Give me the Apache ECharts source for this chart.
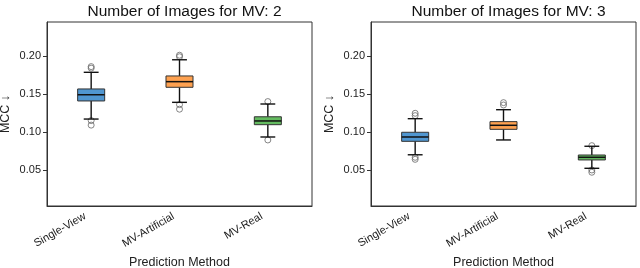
<!DOCTYPE html>
<html><head><meta charset="utf-8">
<script src="https://cdn.jsdelivr.net/npm/echarts@6/dist/echarts.min.js"></script>
<style>html,body{margin:0;padding:0;background:#fff}#c{width:640px;height:268px}</style>
</head><body><div id="c"></div>
<script>
const categories = ['Single-View', 'MV-Artificial', 'MV-Real'];
const titles = ['Number of Images for MV: 2', 'Number of Images for MV: 3'];
const yTicks = [0.05, 0.10, 0.15, 0.20];
const boxColors = ['#5096d0', '#fea150', '#64bb60'];
// [lowerWhisker, Q1, median, Q3, upperWhisker]
const statsMV2 = [
  [0.1170, 0.1408, 0.1490, 0.1566, 0.1785],
  [0.1390, 0.1588, 0.1662, 0.1737, 0.1950],
  [0.0934, 0.1096, 0.1145, 0.1200, 0.1368]
];
const statsMV3 = [
  [0.0700, 0.0877, 0.0934, 0.0996, 0.1175],
  [0.0895, 0.1035, 0.1088, 0.1136, 0.1293],
  [0.0522, 0.0632, 0.0667, 0.0697, 0.0812]
];
// [categoryIndex, value]
const outliersMV2 = [
  [0, 0.1840], [0, 0.1860], [0, 0.1150], [0, 0.1090],
  [1, 0.1990], [1, 0.2010], [1, 0.1360], [1, 0.1300],
  [2, 0.1400], [2, 0.0895]
];
const outliersMV3 = [
  [0, 0.1246], [0, 0.1215], [0, 0.0667], [0, 0.0640],
  [1, 0.1386], [1, 0.1355],
  [2, 0.0820], [2, 0.0500], [2, 0.0470]
];
const yMin = 0.0026, yMax = 0.2447;

const font = 'Liberation Sans, Arial, Helvetica, sans-serif';
const chart = echarts.init(document.getElementById('c'), null, {renderer: 'canvas'});

function renderBox(params, api) {
  const ci = api.value(0);
  const pLow = api.coord([ci, api.value(1)]);
  const pQ1 = api.coord([ci, api.value(2)]);
  const pMed = api.coord([ci, api.value(3)]);
  const pQ3 = api.coord([ci, api.value(4)]);
  const pHigh = api.coord([ci, api.value(5)]);
  const band = api.size([1, 0])[0];
  const bw = band * 0.306;
  const cw = bw * 0.55;
  const x = pMed[0];
  const line = (x1, y1, x2, y2, w) => ({type: 'line', shape: {x1, y1, x2, y2}, style: {stroke: '#111', lineWidth: w}});
  return {type: 'group', children: [
    line(x, pQ3[1], x, pHigh[1], 1.4),
    line(x, pQ1[1], x, pLow[1], 1.4),
    line(x - cw / 2, pHigh[1], x + cw / 2, pHigh[1], 1.4),
    line(x - cw / 2, pLow[1], x + cw / 2, pLow[1], 1.4),
    {type: 'rect', shape: {x: x - bw / 2, y: pQ3[1], width: bw, height: pQ1[1] - pQ3[1]},
     style: {fill: boxColors[ci], stroke: '#333', lineWidth: 1}},
    line(x - bw / 2, pMed[1], x + bw / 2, pMed[1], 1.5)
  ]};
}

function makeData(stats) { return stats.map((s, i) => [i].concat(s)); }

const grids = [
  {left: 47, right: 328, top: 22, bottom: 62, show: true, borderColor: '#333', borderWidth: 1, outerBoundsMode: 'none', containLabel: false},
  {left: 371, right: 4, top: 22, bottom: 62, show: true, borderColor: '#333', borderWidth: 1, outerBoundsMode: 'none', containLabel: false}
];
const xAxes = [0, 1].map(i => ({
  type: 'category', gridIndex: i, data: categories, boundaryGap: true,
  axisLine: {lineStyle: {color: '#333', width: 1}},
  axisTick: {alignWithLabel: true, length: 4, lineStyle: {color: '#333'}},
  axisLabel: {rotate: 30, fontSize: 11, color: '#222', fontFamily: font, margin: 6,
    align: 'right', verticalAlign: 'middle', padding: [0, 7, 0, 0]},
  name: 'Prediction Method', nameLocation: 'middle', nameGap: 46,
  nameTextStyle: {fontSize: 12.5, color: '#222', fontFamily: font}
}));
const yAxes = [0, 1].map(i => ({
  type: 'value', gridIndex: i, min: yMin, max: yMax,
  splitLine: {show: false},
  axisLine: {show: true, lineStyle: {color: '#333', width: 1}},
  axisTick: {show: true, length: 4, customValues: yTicks, lineStyle: {color: '#333'}},
  axisLabel: {customValues: yTicks, fontSize: 11, color: '#222', fontFamily: font, margin: 6,
    formatter: v => v.toFixed(2)},
  name: 'MCC ↓', nameLocation: 'middle', nameGap: 35, nameRotate: 90,
  nameTextStyle: {fontSize: 12.5, color: '#222', fontFamily: font}
}));
const allStats = [statsMV2, statsMV3];
const allOut = [outliersMV2, outliersMV3];
const series = [];
[0, 1].forEach(i => {
  series.push({
    type: 'custom', xAxisIndex: i, yAxisIndex: i, renderItem: renderBox,
    encode: {x: 0, y: [1, 2, 3, 4, 5]}, data: makeData(allStats[i]), z: 3, silent: true
  });
  series.push({
    type: 'scatter', xAxisIndex: i, yAxisIndex: i, data: allOut[i], symbol: 'circle', symbolSize: 6,
    itemStyle: {color: 'rgba(255,255,255,0)', borderColor: '#666', borderWidth: 1}, z: 2, silent: true
  });
});
chart.setOption({
  animation: false,
  title: [
    {text: titles[0], left: 179.5, textAlign: 'center', top: -1, textStyle: {fontSize: 15.5, fontWeight: 'normal', color: '#111', fontFamily: font}},
    {text: titles[1], left: 503.5, textAlign: 'center', top: -1, textStyle: {fontSize: 15.5, fontWeight: 'normal', color: '#111', fontFamily: font}}
  ],
  grid: grids, xAxis: xAxes, yAxis: yAxes, series: series
});
</script></body></html>
